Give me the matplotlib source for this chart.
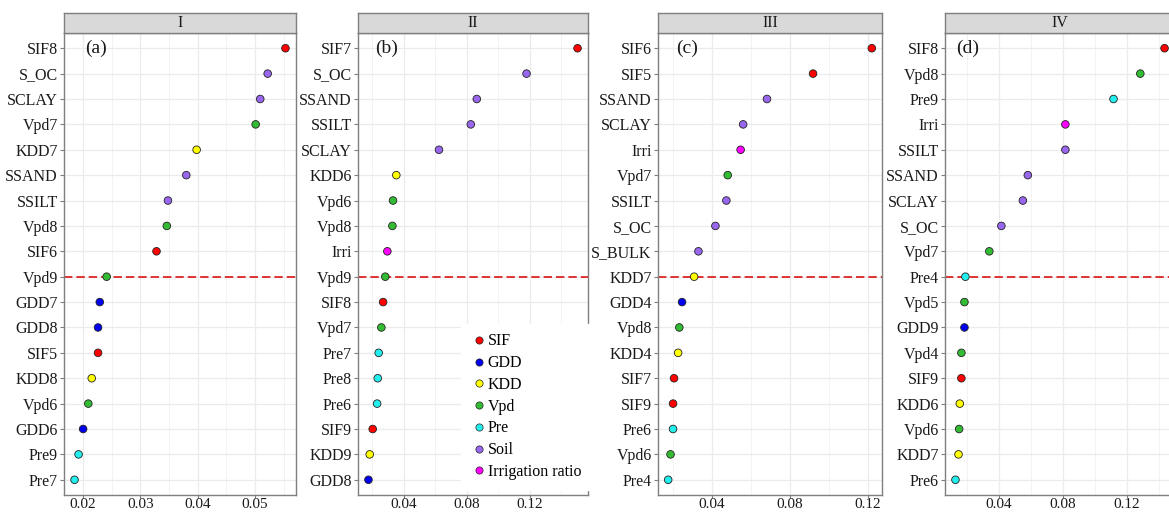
import numpy as np
import matplotlib
matplotlib.use("Agg")
import matplotlib.pyplot as plt
from matplotlib.ticker import MultipleLocator, FormatStrFormatter
from matplotlib.lines import Line2D

plt.rcParams['font.family'] = ['Liberation Serif', 'DejaVu Serif']

# ---- data (top row first) ----
names_I = ['SIF8', 'S_OC', 'SCLAY', 'Vpd7', 'KDD7', 'SSAND', 'SSILT', 'Vpd8', 'SIF6',
           'Vpd9', 'GDD7', 'GDD8', 'SIF5', 'KDD8', 'Vpd6', 'GDD6', 'Pre9', 'Pre7']
vals_I = [0.0553, 0.0522, 0.0509, 0.0501, 0.0398, 0.0380, 0.0348, 0.0346, 0.0328,
          0.0241, 0.0229, 0.0226, 0.0226, 0.0215, 0.0209, 0.0200, 0.0192, 0.0185]

names_II = ['SIF7', 'S_OC', 'SSAND', 'SSILT', 'SCLAY', 'KDD6', 'Vpd6', 'Vpd8', 'Irri',
            'Vpd9', 'SIF8', 'Vpd7', 'Pre7', 'Pre8', 'Pre6', 'SIF9', 'KDD9', 'GDD8']
vals_II = [0.1505, 0.1181, 0.0865, 0.0827, 0.0625, 0.0354, 0.0333, 0.0329, 0.0297,
           0.0284, 0.0270, 0.0259, 0.0242, 0.0236, 0.0232, 0.0204, 0.0185, 0.0177]

names_III = ['SIF6', 'SIF5', 'SSAND', 'SCLAY', 'Irri', 'Vpd7', 'SSILT', 'S_OC', 'S_BULK',
             'KDD7', 'GDD4', 'Vpd8', 'KDD4', 'SIF7', 'SIF9', 'Pre6', 'Vpd6', 'Pre4']
vals_III = [0.1220, 0.0919, 0.0683, 0.0561, 0.0548, 0.0482, 0.0475, 0.0419, 0.0332,
            0.0310, 0.0248, 0.0234, 0.0228, 0.0207, 0.0202, 0.0202, 0.0189, 0.0177]

names_IV = ['SIF8', 'Vpd8', 'Pre9', 'Irri', 'SSILT', 'SSAND', 'SCLAY', 'S_OC', 'Vpd7',
            'Pre4', 'Vpd5', 'GDD9', 'Vpd4', 'SIF9', 'KDD6', 'Vpd6', 'KDD7', 'Pre6']
vals_IV = [0.1434, 0.1283, 0.1116, 0.0816, 0.0816, 0.0582, 0.0551, 0.0417, 0.0342,
           0.0193, 0.0187, 0.0187, 0.0168, 0.0168, 0.0158, 0.0154, 0.0150, 0.0131]

cutoffs = ['Vpd9', 'Vpd9', 'KDD7', 'Pre4']
strips = ['I', 'II', 'III', 'IV']
tags = ['(a)', '(b)', '(c)', '(d)']

groups = ['SIF', 'GDD', 'KDD', 'Vpd', 'Pre', 'Soil', 'Irrigation ratio']
group_colors = {'SIF': '#FF0000', 'GDD': '#0000EE', 'KDD': '#FFFF00', 'Vpd': '#33BB33',
                'Pre': '#22EEEE', 'Soil': '#9966EE', 'Irrigation ratio': '#FF00FF'}


def group_of(name):
    if name == 'Irri':
        return 'Irrigation ratio'
    for g in ['SIF', 'GDD', 'KDD', 'Vpd', 'Pre']:
        if name.startswith(g):
            return g
    return 'Soil'


panels = [(names_I, vals_I), (names_II, vals_II), (names_III, vals_III), (names_IV, vals_IV)]

# pixel layout of each panel (left, width)
W, H = 1169, 513
lefts = [64, 358, 658, 945]
widths = [232, 230, 224, 230]
ax_top, ax_bot, strip_top = 33, 495, 13
tag_x = [0.09, 0.074, 0.08, 0.05]
major_steps = [0.01, 0.04, 0.04, 0.04]

fig = plt.figure(figsize=(W / 100, H / 100), dpi=100)
border = '#7F7F7F'

for k, (names, vals) in enumerate(panels):
    ax = fig.add_axes([lefts[k] / W, (H - ax_bot) / H, widths[k] / W, (ax_bot - ax_top) / H])
    n = len(names)
    y = np.arange(n)[::-1]
    cols = [group_colors[group_of(nm)] for nm in names]

    ax.scatter(vals, y, s=30, c=cols, edgecolors='#222222', linewidths=0.6, zorder=3)

    cut_y = y[names.index(cutoffs[k])]
    ax.axhline(cut_y, color='#D80000', lw=1.1, dashes=(5.5, 2.6), zorder=2)

    lo, hi = min(vals), max(vals)
    pad = 0.05 * (hi - lo)
    ax.set_xlim(lo - pad, hi + pad)
    ax.set_ylim(-0.6, n - 0.4)

    ax.set_yticks(y)
    ax.set_yticklabels(names)
    ax.xaxis.set_major_locator(MultipleLocator(major_steps[k]))
    ax.xaxis.set_minor_locator(MultipleLocator(major_steps[k] / 2))
    ax.xaxis.set_major_formatter(FormatStrFormatter('%.2f'))

    ax.grid(True, which='major', color='#EBEBEB', lw=0.9, zorder=0)
    ax.grid(True, which='minor', axis='x', color='#EFEFEF', lw=0.5, zorder=0)
    ax.set_axisbelow(True)

    ax.tick_params(axis='both', which='major', labelsize=11.5, colors=border,
                   labelcolor='#1A1A1A', length=3, width=0.8, pad=1.5)
    ax.tick_params(axis='x', which='major', labelsize=11, length=2.5, pad=0)
    ax.tick_params(axis='x', which='minor', length=0)
    for sp in ax.spines.values():
        sp.set_color(border)
        sp.set_linewidth(1.0)

    ax.text(tag_x[k], y[0], tags[k], transform=ax.get_yaxis_transform(),
            fontsize=14, va='center', ha='left', color='#1A1A1A')

    # facet strip
    sax = fig.add_axes([lefts[k] / W, (H - ax_top) / H, widths[k] / W, (ax_top - strip_top) / H])
    sax.set_facecolor('#D9D9D9')
    sax.set_xticks([])
    sax.set_yticks([])
    for sp in sax.spines.values():
        sp.set_color(border)
        sp.set_linewidth(1.0)
    sax.text(0.5, 0.5, strips[k], transform=sax.transAxes, ha='center', va='center',
             fontsize=11.5, color='#1A1A1A')

    if k == 1:
        handles = [Line2D([], [], ls='none', marker='o', markersize=5.2,
                          markerfacecolor=group_colors[g], markeredgecolor='#222222',
                          markeredgewidth=0.5) for g in groups]
        leg = ax.legend(handles, groups, loc='upper left', bbox_to_anchor=(0.47, 0.36),
                        frameon=True, fontsize=11.5, handletextpad=0.05, labelspacing=0.36,
                        handlelength=1.0, borderpad=0.3, borderaxespad=0)
        leg.get_frame().set_facecolor('white')
        leg.get_frame().set_edgecolor('white')
        leg.get_frame().set_alpha(1)
        leg.get_frame().set_boxstyle('square', pad=0.3)
        leg.set_zorder(5)

fig.savefig('out.png', dpi=100)
